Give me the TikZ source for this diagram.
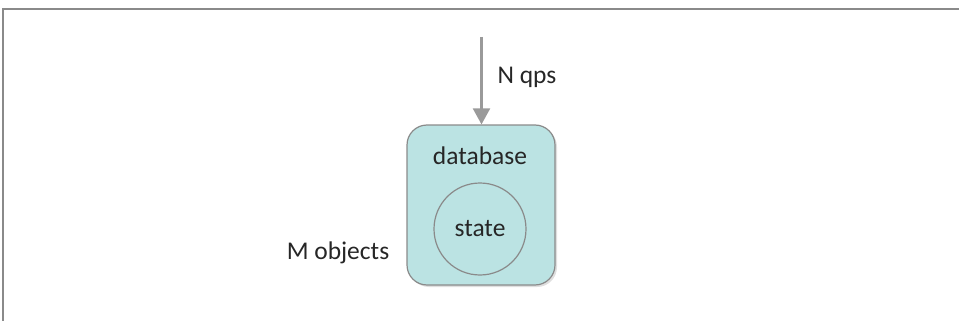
\documentclass[tikz,border=0pt]{standalone}
\usepackage{fontspec}
\setmainfont{Carlito}
\usetikzlibrary{arrows.meta,shadows}
\definecolor{dbfill}{HTML}{BBE3E3}
\definecolor{edgegray}{HTML}{8A8A8A}
\definecolor{arrowgray}{HTML}{9A9A9A}
\definecolor{txt}{HTML}{262626}
\tikzset{
  lbl/.style={text=txt, font=\fontsize{25.5}{30}\selectfont, inner sep=0pt},
  dbbox/.style={draw=edgegray, line width=1.2pt, fill=dbfill, rounded corners=20pt,
    drop shadow={shadow xshift=2pt, shadow yshift=-2pt, opacity=0.25}},
  statecirc/.style={circle, draw=edgegray, line width=1.2pt, minimum size=92pt, inner sep=0pt},
  flow/.style={draw=arrowgray, line width=2.2pt, -{Triangle[width=17pt,length=16pt]}}
}
\begin{document}
\begin{tikzpicture}[x=1pt,y=-1pt]
  \useasboundingbox (0,0) rectangle (959,321);
  % open frame: top and left edges
  \draw[edgegray, line width=2pt] (3,321) -- (3,9.5) -- (959,9.5);
  % database box
  \node[dbbox, minimum width=148pt, minimum height=160pt] (db) at (481,205) {};
  \node[lbl] (dbl) at (480,156) {database};
  \node[statecirc] (st) at (480,229) {};
  \node[lbl] (stl) at (480,229) {state};
  \node[lbl] (mobj) at (338,253) {M objects};
  % incoming queries
  \coordinate (src) at (481.5,37);
  \draw[flow] (src) -- (db.north -| src);
  \node[lbl] (nqps) at (527,77) {N qps};
\end{tikzpicture}
\end{document}
